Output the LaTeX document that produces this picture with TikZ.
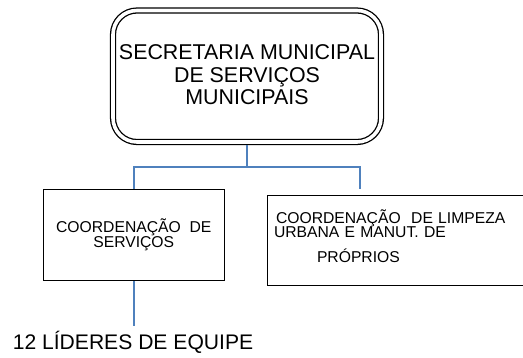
\documentclass[tikz,border=0pt]{standalone}
\usepackage{fontspec}
\setmainfont{Liberation Sans}
\definecolor{lineblue}{RGB}{79,129,189}
\setlength{\lineskiplimit}{-100pt}

\begin{document}
\begin{tikzpicture}[x=1pt,y=-1pt]
    \tikzstyle{secbox} = [draw,double,double distance=3.6pt,line width=1.3pt,
                          rounded corners=24pt,align=center,outer sep=3.1pt]
    \tikzstyle{coordbox} = [draw,line width=1.2pt]
    \tikzstyle{conn} = [draw=lineblue,line width=1.6pt]
    \tikzstyle{bigtext} = [font=\fontsize{21.4}{22.5}\selectfont]
    \tikzstyle{smalltext} = [font=\fontsize{15.7}{15}\selectfont]

    \useasboundingbox (0,0) rectangle (523,358);

    \node[secbox,bigtext,minimum width=268pt,minimum height=131.5pt,text depth=3pt]
        (sec) at (247,76.25) {SECRETARIA MUNICIPAL\\DE SERVIÇOS\\MUNICIPAIS};
    \node[coordbox,smalltext,align=center,minimum width=181pt,minimum height=91pt]
        (svc) at (133.75,235) {COORDENAÇÃO~~DE\\SERVIÇOS};
    \node[coordbox,font=\fontsize{15.7}{14.5}\selectfont,
          align=left,text width=243.5pt,inner xsep=6.5pt,minimum height=89.5pt,text depth=48.5pt]
        (urb) at (395.75,240.4)
        {\hspace*{2pt}COORDENAÇÃO~~DE LIMPEZA\\URBANA E MANUT. DE\\[10pt]\hspace*{43pt}PRÓPRIOS};
    \node[font=\fontsize{21.1}{24}\selectfont,anchor=base,inner ysep=6pt]
        (lid) at (133,350) {12 LÍDERES DE EQUIPE};

    % connectors
    \coordinate (split) at (247,167);
    \coordinate (urbtop) at (360,189.5);
    \draw[conn] (sec.south) -- (split);
    \draw[conn] (svc.north) -- (svc.north |- split) -- (split -| urbtop) -- (urbtop);
    \draw[conn] (svc.south) -- (svc.south |- lid.north);
\end{tikzpicture}
\end{document}
